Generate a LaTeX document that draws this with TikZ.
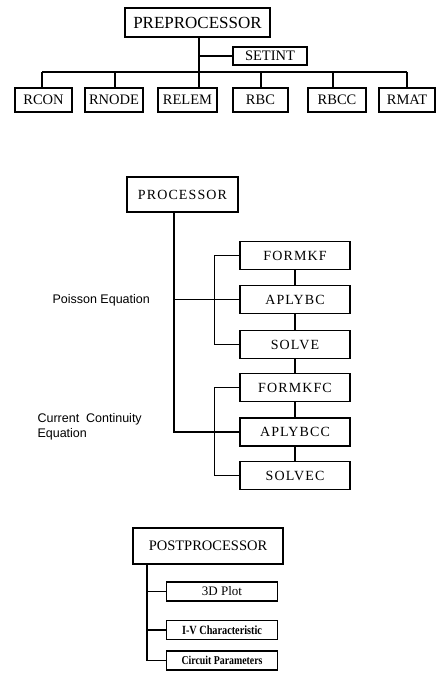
\documentclass[tikz,border=0pt]{standalone}
\usepackage{fontspec}
\usepackage{graphicx}
\setmainfont{Liberation Serif}
\newfontfamily\lsans{Liberation Sans}
\newfontfamily\spaced[LetterSpace=8]{Liberation Serif}
\newcommand{\condtext}[1]{\scalebox{0.82}[1]{#1}}
\begin{document}
\begin{tikzpicture}[x=1pt,y=-1pt,
  line width=1.1pt,
  box/.style={draw,line width=1.1pt,inner sep=0pt,minimum width=#1,minimum height=26pt},
  box/.default=58pt,
  topfont/.style={font=\fontsize{14.5}{16}\selectfont},
  midbox/.style={draw,line width=1.1pt,inner sep=0pt,minimum width=110pt,minimum height=28pt,font=\spaced\fontsize{14}{16}\selectfont},
  smallbox/.style={draw,line width=1.1pt,inner sep=0pt,minimum width=111pt,minimum height=19pt},
  lbl/.style={font=\lsans\fontsize{12.5}{15}\selectfont,inner sep=0pt,align=left}]
\useasboundingbox (0,0) rectangle (445,677);
% ---------- PREPROCESSOR ----------
\node[draw,inner sep=0pt,minimum width=145pt,minimum height=29pt,font=\fontsize{17}{19}\selectfont] (pre) at (197.5,22.5) {PREPROCESSOR};
\node[box=74pt,minimum height=18pt,topfont] (setint) at (270,56) {SETINT};
\node[box=57pt,minimum height=24pt,topfont] (rcon) at (43.5,100) {RCON};
\node[box=58pt,minimum height=24pt,topfont] (rnode) at (114,100) {RNODE};
\node[box=59pt,minimum height=24pt,topfont] (relem) at (187.5,100) {RELEM};
\node[box=55pt,minimum height=24pt,topfont] (rbc) at (260.5,100) {RBC};
\node[box=58pt,minimum height=24pt,topfont] (rbcc) at (337,100) {RBCC};
\node[box=56pt,minimum height=24pt,topfont] (rmat) at (407,100) {RMAT};
\coordinate (pbot) at (199,37);
\coordinate (b1) at (42,72);
\coordinate (b2) at (115,72);
\coordinate (b3) at (199,72);
\coordinate (b4) at (261,72);
\coordinate (b5) at (333,72);
\coordinate (b6) at (407,72);
\draw (pbot) -- (b3);
\draw (pbot |- setint.west) -- (setint.west);
\draw (b1) -- (b6);
\draw (b1) -- (b1 |- rcon.north);
\draw (b2) -- (b2 |- rnode.north);
\draw (b3) -- (b3 |- relem.north);
\draw (b4) -- (b4 |- rbc.north);
\draw (b5) -- (b5 |- rbcc.north);
\draw (b6) -- (b6 |- rmat.north);
% ---------- PROCESSOR ----------
\node[midbox,minimum width=111pt,minimum height=35pt] (proc) at (182.5,194.5) {PROCESSOR};
\node[midbox] (formkf) at (295,255.5) {FORMKF};
\node[midbox] (aplybc) at (295,299.5) {APLYBC};
\node[midbox] (solve) at (295,344.5) {SOLVE};
\node[midbox] (formkfc) at (295,387.5) {FORMKFC};
\node[midbox] (aplybcc) at (295,432) {APLYBCC};
\node[midbox] (solvec) at (295,475.5) {SOLVEC};
\coordinate (ptop) at (174,212);
\coordinate (pend) at (174,432);
\draw (ptop) -- (pend) -- (aplybcc.west);
\draw (ptop |- aplybc.west) -- (aplybc.west);
\draw (formkf.west) -- ++(-25,0) |- (solve.west);
\draw (formkfc.west) -- ++(-25,0) |- (solvec.west);
\draw (formkf) -- (aplybc);
\draw (aplybc) -- (solve);
\draw (solve) -- (formkfc);
\draw (formkfc) -- (aplybcc);
\draw (aplybcc) -- (solvec);
\node[lbl,anchor=west] (poisson) at (52,300) {Poisson Equation};
\node[lbl,anchor=west] (ccont) at (37,427) {Current\ \ Continuity\\Equation};
% ---------- POSTPROCESSOR ----------
\node[draw,inner sep=0pt,minimum width=150pt,minimum height=36pt,font=\fontsize{14.5}{16}\selectfont] (post) at (208,546) {POSTPROCESSOR};
\node[smallbox,font=\fontsize{13}{15}\selectfont] (plot) at (222,591.5) {3D Plot};
\node[smallbox,font=\bfseries\fontsize{12.5}{14}\selectfont] (iv) at (222,630) {\condtext{I-V\ Characteristic}};
\node[smallbox,font=\bfseries\fontsize{12}{14}\selectfont] (circ) at (222,660.5) {\condtext{Circuit Parameters}};
\coordinate (qtop) at (147,564);
\draw (qtop) -- (qtop |- circ.west) -- (circ.west);
\draw (qtop |- plot.west) -- (plot.west);
\draw (qtop |- iv.west) -- (iv.west);
\end{tikzpicture}
\end{document}
